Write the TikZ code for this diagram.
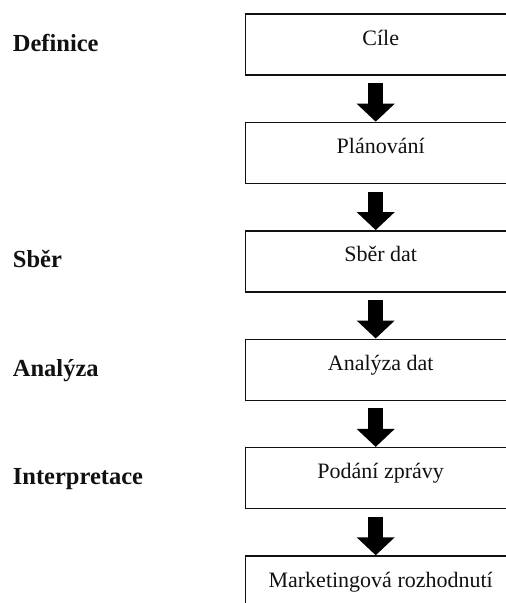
\documentclass[tikz,border=0pt]{standalone}
\usepackage{fontspec}
\setmainfont{Liberation Serif}
\usetikzlibrary{arrows.meta,positioning}
\definecolor{mrink}{HTML}{111111}
\tikzset{
  mrbox/.style={draw=mrink, line width=1.4pt, minimum width=270pt, inner sep=0pt,
    text height=31pt, text depth=30pt, font=\fontsize{22}{26}\selectfont, text=mrink},
  mrphase/.style={anchor=base west, inner sep=0pt,
    font=\fontsize{24.5}{29}\selectfont\bfseries, text=mrink},
  mrarr/.style={-{Triangle[length=18pt,width=37pt]}, line width=15pt, draw=black},
}

\begin{document}
\begin{tikzpicture}[x=1pt, y=-1pt, node distance=46pt]
  \useasboundingbox (0,0) rectangle (506,603);
  \node[mrbox, anchor=north west] (cile) at (245,13.3) {Cíle};
  \node[mrbox, below=of cile] (plan) {Plánování};
  \node[mrbox, below=of plan] (sber) {Sběr dat};
  \node[mrbox, below=of sber] (anal) {Analýza dat};
  \node[mrbox, below=of anal] (zprava) {Podání zprávy};
  \node[mrbox, below=of zprava] (rozh) {Marketingová rozhodnutí};
  \coordinate (lm) at (12.7,0);
  \node[mrphase] (pdef) at ([yshift=-6pt]cile.base -| lm) {Definice};
  \node[mrphase] (psber) at ([yshift=-6pt]sber.base -| lm) {Sběr};
  \node[mrphase] (panal) at ([yshift=-6pt]anal.base -| lm) {Analýza};
  \node[mrphase] (pint) at ([yshift=-6pt]zprava.base -| lm) {Interpretace};
  \draw[mrarr] ([xshift=-5pt,yshift=-7.5pt]cile.south) -- ([xshift=-5pt]plan.north);
  \draw[mrarr] ([xshift=-5pt,yshift=-7.5pt]plan.south) -- ([xshift=-5pt]sber.north);
  \draw[mrarr] ([xshift=-5pt,yshift=-7.5pt]sber.south) -- ([xshift=-5pt]anal.north);
  \draw[mrarr] ([xshift=-5pt,yshift=-7.5pt]anal.south) -- ([xshift=-5pt]zprava.north);
  \draw[mrarr] ([xshift=-5pt,yshift=-7.5pt]zprava.south) -- ([xshift=-5pt]rozh.north);
\end{tikzpicture}
\end{document}
